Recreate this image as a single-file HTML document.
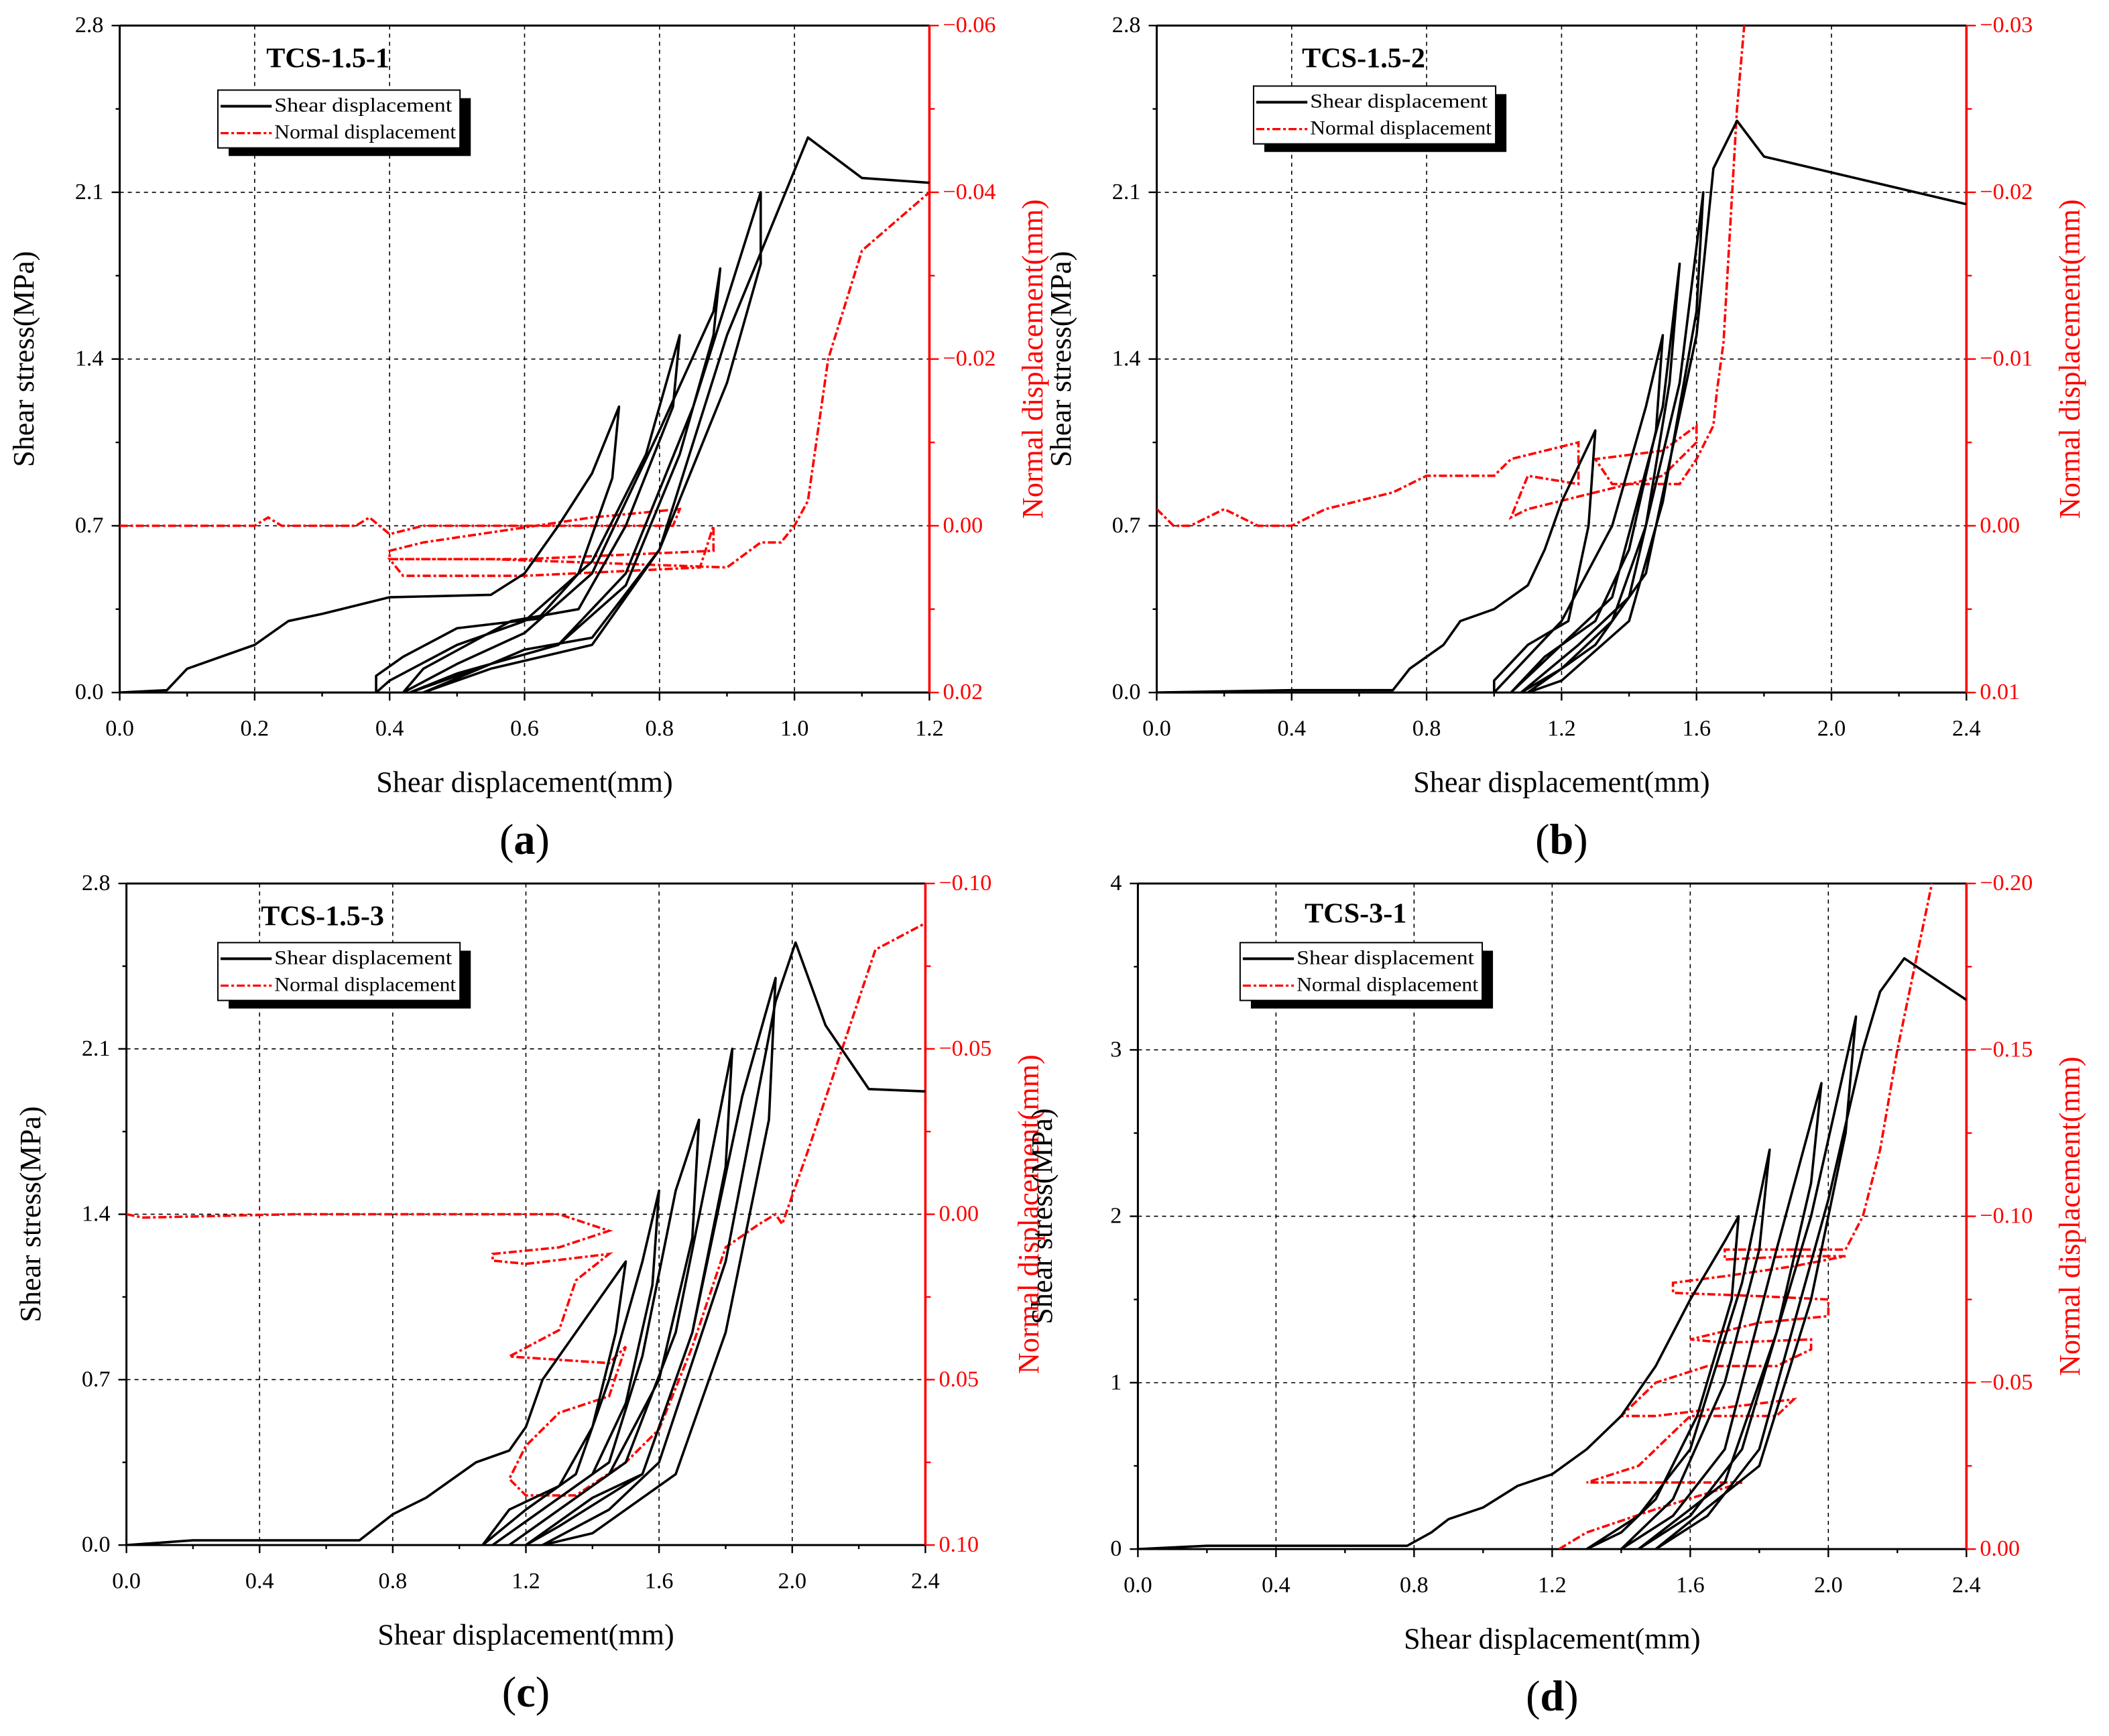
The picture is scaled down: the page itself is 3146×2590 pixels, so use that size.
<!DOCTYPE html>
<html><head><meta charset="utf-8"><style>
html,body{margin:0;padding:0;background:#fff;}
svg{display:block;font-family:"Liberation Serif",serif;}
text{font-family:"Liberation Serif",serif;}
</style></head><body>
<svg id="fig" width="3146" height="2590" viewBox="0 0 1568 1291" preserveAspectRatio="none" font-family="Liberation Serif, serif" xmlns="http://www.w3.org/2000/svg"></svg>
<script>
// ---------- DATA ----------
const shearA=[[0,0],[0.07,0.01],[0.1,0.1],[0.15,0.15],[0.2,0.2],[0.25,0.3],[0.3,0.33],[0.4,0.4],[0.55,0.41],[0.6,0.5],[0.65,0.7],[0.7,0.92],[0.74,1.2],[0.73,0.9],[0.68,0.5],[0.62,0.31],[0.5,0.27],[0.42,0.15],[0.38,0.07],[0.38,0],[0.4,0.05],[0.5,0.2],[0.6,0.3],[0.7,0.55],[0.78,1.0],[0.83,1.5],[0.82,1.2],[0.75,0.7],[0.68,0.35],[0.58,0.3],[0.45,0.1],[0.42,0],[0.5,0.12],[0.6,0.25],[0.7,0.5],[0.8,1.1],[0.88,1.6],[0.89,1.78],[0.88,1.5],[0.83,1.0],[0.75,0.45],[0.65,0.2],[0.5,0.08],[0.43,0],[0.55,0.12],[0.65,0.2],[0.75,0.5],[0.85,1.2],[0.95,2.1],[0.95,1.8],[0.9,1.3],[0.8,0.6],[0.7,0.2],[0.55,0.1],[0.45,0],[0.6,0.18],[0.7,0.23],[0.8,0.6],[0.9,1.5],[1.02,2.33],[1.1,2.16],[1.2,2.14]];
const normalA=[[0,0],[0.2,0],[0.22,-0.001],[0.24,0],[0.35,0],[0.37,-0.001],[0.4,0.001],[0.45,0],[0.82,0],[0.83,-0.002],[0.7,-0.001],[0.45,0.002],[0.4,0.003],[0.4,0.004],[0.6,0.004],[0.88,0.003],[0.88,0],[0.86,0.005],[0.6,0.006],[0.42,0.006],[0.4,0.004],[0.55,0.004],[0.9,0.005],[0.95,0.002],[0.98,0.002],[1.0,0],[1.02,-0.003],[1.05,-0.02],[1.1,-0.033],[1.2,-0.04]];
const shearB=[[0,0],[0.4,0.01],[0.7,0.01],[0.75,0.1],[0.8,0.15],[0.85,0.2],[0.9,0.3],[1.0,0.35],[1.1,0.45],[1.15,0.6],[1.2,0.8],[1.3,1.1],[1.28,0.7],[1.22,0.3],[1.1,0.2],[1.0,0.05],[1.0,0],[1.1,0.15],[1.2,0.3],[1.35,0.7],[1.45,1.2],[1.5,1.5],[1.48,1.1],[1.4,0.6],[1.3,0.3],[1.15,0.15],[1.05,0],[1.2,0.2],[1.35,0.4],[1.5,1.2],[1.55,1.8],[1.52,1.3],[1.45,0.7],[1.35,0.3],[1.2,0.1],[1.08,0],[1.25,0.2],[1.4,0.4],[1.55,1.3],[1.62,2.1],[1.6,1.6],[1.5,0.8],[1.4,0.3],[1.2,0.05],[1.1,0],[1.3,0.2],[1.45,0.5],[1.6,1.5],[1.65,2.2],[1.72,2.4],[1.8,2.25],[2.4,2.05]];
const normalB=[[0,-0.001],[0.05,0],[0.1,0],[0.2,-0.001],[0.3,0],[0.4,0],[0.5,-0.001],[0.7,-0.002],[0.8,-0.003],[1.0,-0.003],[1.05,-0.004],[1.25,-0.005],[1.25,-0.0025],[1.1,-0.003],[1.05,-0.0005],[1.1,-0.001],[1.3,-0.002],[1.5,-0.003],[1.6,-0.005],[1.6,-0.006],[1.5,-0.0045],[1.3,-0.004],[1.35,-0.0025],[1.55,-0.0025],[1.6,-0.004],[1.65,-0.006],[1.66,-0.008],[1.68,-0.011],[1.7,-0.018],[1.72,-0.025],[1.75,-0.032]];
const shearC=[[0,0],[0.2,0.02],[0.7,0.02],[0.8,0.13],[0.9,0.2],[1.0,0.3],[1.05,0.35],[1.15,0.4],[1.2,0.5],[1.25,0.7],[1.35,0.9],[1.45,1.1],[1.5,1.2],[1.47,0.9],[1.4,0.5],[1.3,0.25],[1.15,0.15],[1.07,0],[1.2,0.15],[1.35,0.3],[1.45,0.7],[1.55,1.2],[1.6,1.5],[1.58,1.1],[1.5,0.6],[1.4,0.3],[1.2,0.1],[1.1,0],[1.3,0.2],[1.45,0.35],[1.55,0.8],[1.65,1.5],[1.72,1.8],[1.7,1.3],[1.6,0.7],[1.45,0.3],[1.25,0.1],[1.15,0],[1.35,0.2],[1.5,0.35],[1.65,0.9],[1.75,1.6],[1.82,2.1],[1.8,1.6],[1.7,0.9],[1.55,0.3],[1.3,0.08],[1.2,0],[1.4,0.2],[1.55,0.3],[1.7,0.9],[1.85,1.9],[1.95,2.4],[1.93,1.8],[1.8,0.9],[1.65,0.3],[1.4,0.05],[1.25,0],[1.45,0.15],[1.6,0.35],[1.8,1.2],[1.95,2.3],[2.01,2.55],[2.1,2.2],[2.23,1.93],[2.4,1.92]];
const normalC=[[0,0],[0.05,0.001],[0.5,0],[1.0,0],[1.3,0],[1.45,0.005],[1.3,0.01],[1.1,0.012],[1.1,0.014],[1.2,0.015],[1.45,0.012],[1.35,0.02],[1.3,0.035],[1.15,0.043],[1.3,0.044],[1.45,0.045],[1.5,0.04],[1.45,0.055],[1.3,0.06],[1.2,0.07],[1.15,0.08],[1.2,0.085],[1.35,0.085],[1.5,0.075],[1.6,0.065],[1.7,0.04],[1.8,0.01],[1.9,0.003],[1.95,0],[1.97,0.003],[2.05,-0.02],[2.15,-0.05],[2.25,-0.08],[2.4,-0.088]];
const shearD=[[0,0],[0.2,0.02],[0.78,0.02],[0.85,0.1],[0.9,0.18],[1.0,0.25],[1.1,0.38],[1.2,0.45],[1.3,0.6],[1.4,0.8],[1.5,1.1],[1.6,1.5],[1.7,1.85],[1.74,2.0],[1.72,1.5],[1.62,0.8],[1.5,0.3],[1.4,0.1],[1.3,0],[1.45,0.2],[1.6,0.6],[1.75,1.6],[1.83,2.4],[1.8,1.8],[1.7,1.0],[1.55,0.3],[1.4,0],[1.55,0.2],[1.7,0.6],[1.85,1.8],[1.98,2.8],[1.95,2.2],[1.85,1.3],[1.7,0.4],[1.45,0],[1.6,0.2],[1.75,0.6],[1.95,2.0],[2.08,3.2],[2.05,2.5],[1.95,1.5],[1.8,0.5],[1.5,0],[1.65,0.2],[1.8,0.6],[2.0,2.1],[2.1,3.0],[2.15,3.35],[2.22,3.55],[2.4,3.3]];
const normalD=[[1.22,0],[1.3,-0.005],[1.5,-0.012],[1.75,-0.02],[1.6,-0.02],[1.3,-0.02],[1.45,-0.025],[1.6,-0.04],[1.85,-0.04],[1.9,-0.045],[1.5,-0.04],[1.4,-0.04],[1.5,-0.05],[1.65,-0.055],[1.85,-0.055],[1.95,-0.06],[1.95,-0.063],[1.7,-0.062],[1.6,-0.063],[1.8,-0.068],[2.0,-0.07],[2.0,-0.075],[1.8,-0.076],[1.55,-0.077],[1.55,-0.08],[1.7,-0.082],[1.9,-0.085],[2.05,-0.088],[1.9,-0.088],[1.7,-0.087],[1.7,-0.09],[2.0,-0.09],[2.05,-0.09],[2.1,-0.1],[2.15,-0.12],[2.2,-0.15],[2.25,-0.175],[2.3,-0.2]];
const xTicksA=[0,0.2,0.4,0.6,0.8,1.0,1.2];
const xTicks24=[0,0.4,0.8,1.2,1.6,2.0,2.4];
const yTicks28=[0,0.7,1.4,2.1,2.8];
const yTicks4=[0,1,2,3,4];
const rTicksA=[0.02,0,-0.02,-0.04,-0.06];
const rTicksB=[0.01,0,-0.01,-0.02,-0.03];
const rTicksC=[0.10,0.05,0,-0.05,-0.10];
const rTicksD=[0,-0.05,-0.10,-0.15,-0.20];
const titles=["TCS-1.5-1","TCS-1.5-2","TCS-1.5-3","TCS-3-1"];
const labels=["a","b","c","d"];

// ---------- DRAW ----------
const NS="http://www.w3.org/2000/svg";
const svg=document.getElementById('fig');
function mk(tag,attrs,parent){const e=document.createElementNS(NS,tag);for(const k in attrs)e.setAttribute(k,attrs[k]);(parent||svg).appendChild(e);return e;}
function fmt(v,d){let s=Math.abs(v).toFixed(d);return (v<0?'\u2212':'')+s;}

const panels=[
 {L:89,R:691,T:19,B:515,xt:xTicksA,xd:1,yt:yTicks28,yd:1,rt:rTicksA,rd:2,sh:shearA,nm:normalA,tx:198,ty:43,lg:[162,67]},
 {L:860,R:1462,T:19,B:515,xt:xTicks24,xd:1,yt:yTicks28,yd:1,rt:rTicksB,rd:2,sh:shearB,nm:normalB,tx:968,ty:43,lg:[932,64]},
 {L:94,R:688,T:657,B:1149,xt:xTicks24,xd:1,yt:yTicks28,yd:1,rt:rTicksC,rd:2,sh:shearC,nm:normalC,tx:194,ty:681,lg:[162,701]},
 {L:846,R:1462,T:657,B:1152,xt:xTicks24,xd:1,yt:yTicks4,yd:0,rt:rTicksD,rd:2,sh:shearD,nm:normalD,tx:970,ty:679,lg:[922,701]}
];
const SERIF='Liberation Serif, serif';

panels.forEach((p,i)=>{
 const g=mk('g',{'font-family':SERIF});
 
 
 const x0=p.xt[0],x1=p.xt[p.xt.length-1],y0=p.yt[0],y1=p.yt[p.yt.length-1];
 const r0=p.rt[0],r1=p.rt[p.rt.length-1];
 const sx=v=>p.L+(v-x0)/(x1-x0)*(p.R-p.L);
 const sy=v=>p.B-(v-y0)/(y1-y0)*(p.B-p.T);
 const sr=v=>p.B-(v-r0)/(r1-r0)*(p.B-p.T);
 const defs=mk('defs',{},g);
 const cp=mk('clipPath',{id:'clip'+i},defs);
 mk('rect',{x:p.L,y:p.T,width:p.R-p.L,height:p.B-p.T},cp);
 p.xt.slice(1,-1).forEach(v=>{const l=mk('line',{x1:sx(v),x2:sx(v),y1:p.T,y2:p.B,stroke:'#000','stroke-width':0.8,'stroke-dasharray':'3,3'},g);});
 p.yt.slice(1,-1).forEach(v=>{const l=mk('line',{x1:p.L,x2:p.R,y1:sy(v),y2:sy(v),stroke:'#000','stroke-width':0.8,'stroke-dasharray':'3,3'},g);});
 mk('line',{x1:p.L,x2:p.R,y1:p.T,y2:p.T,stroke:'#000','stroke-width':1.5},g);
 mk('line',{x1:p.L,x2:p.R,y1:p.B,y2:p.B,stroke:'#000','stroke-width':1.5},g);
 mk('line',{x1:p.L,x2:p.L,y1:p.T,y2:p.B,stroke:'#000','stroke-width':1.5},g);
 mk('line',{x1:p.R,x2:p.R,y1:p.T,y2:p.B,stroke:'#f00','stroke-width':1.8},g);
 p.xt.forEach((v,k)=>{
  mk('line',{x1:sx(v),x2:sx(v),y1:p.B,y2:p.B+6,stroke:'#000','stroke-width':1.2},g);
  if(k<p.xt.length-1){const m=(v+p.xt[k+1])/2;mk('line',{x1:sx(m),x2:sx(m),y1:p.B,y2:p.B+3,stroke:'#000','stroke-width':1.2},g);}
  const t=mk('text',{x:sx(v),y:p.B+32,'font-size':17,'text-anchor':'middle','font-family':SERIF},g);t.textContent=v.toFixed(p.xd);
  
 });
 p.yt.forEach((v,k)=>{
  mk('line',{x1:p.L-6,x2:p.L,y1:sy(v),y2:sy(v),stroke:'#000','stroke-width':1.2},g);
  if(k<p.yt.length-1){const m=(v+p.yt[k+1])/2;mk('line',{x1:p.L-3,x2:p.L,y1:sy(m),y2:sy(m),stroke:'#000','stroke-width':1.2},g);}
  const t=mk('text',{x:p.L-12,y:sy(v)+5,'font-size':17,'text-anchor':'end','font-family':SERIF},g);t.textContent=v.toFixed(p.yd);
  
 });
 p.rt.forEach((v,k)=>{
  mk('line',{x1:p.R,x2:p.R+7,y1:sr(v),y2:sr(v),stroke:'#f00','stroke-width':1.2},g);
  if(k<p.rt.length-1){const m=(v+p.rt[k+1])/2;mk('line',{x1:p.R,x2:p.R+4,y1:sr(m),y2:sr(m),stroke:'#f00','stroke-width':1.2},g);}
  const t=mk('text',{x:p.R+10,y:sr(v)+5,'font-size':17,fill:'#f00','font-family':SERIF},g);t.textContent=fmt(v,p.rd);
  
 });
 const cx=(p.L+p.R)/2, cy=(p.T+p.B)/2;
 let t=mk('text',{x:cx,y:p.B+74,'font-size':22,'text-anchor':'middle','font-family':SERIF},g);t.textContent='Shear displacement(mm)';
 
 t=mk('text',{x:0,y:0,'font-size':22,'text-anchor':'middle','font-family':SERIF,transform:`translate(${p.L-64},${cy}) rotate(-90)`},g);t.textContent='Shear stress(MPa)';
 
 t=mk('text',{x:0,y:0,'font-size':22,'text-anchor':'middle',fill:'#f00','font-family':SERIF,transform:`translate(${p.R+84},${cy}) rotate(-90)`},g);t.textContent='Normal displacement(mm)';
 
 t=mk('text',{x:cx,y:p.B+120,'font-size':32,'text-anchor':'middle','font-family':SERIF},g);
 
 const s1=mk('tspan',{},t);s1.textContent='(';
 const s2=mk('tspan',{'font-weight':'bold'},t);s2.textContent=labels[i];
 const s3=mk('tspan',{},t);s3.textContent=')';
 const pc=mk('g',{'clip-path':`url(#clip${i})`},g);
 let pl=mk('polyline',{points:p.nm.map(d=>sx(d[0])+','+sr(d[1])).join(' '),fill:'none',stroke:'#f00','stroke-width':1.8,'stroke-dasharray':'6,2,2,2'},pc);
 
 pl=mk('polyline',{points:p.sh.map(d=>sx(d[0])+','+sy(d[1])).join(' '),fill:'none',stroke:'#000','stroke-width':1.8,'stroke-linejoin':'round'},pc);
 
 t=mk('text',{x:p.tx,y:p.ty+7,'font-size':21,'font-weight':'bold','font-family':SERIF},g);t.textContent=titles[i];
 
 const [lx,ly]=p.lg, lw=180, lh=43;
 const lgG=mk('g',{},g);
 
 mk('rect',{x:lx+8,y:ly+6,width:lw,height:lh,fill:'#000'},lgG);
 mk('rect',{x:lx,y:ly,width:lw,height:lh,fill:'#fff',stroke:'#000','stroke-width':1},lgG);
 mk('line',{x1:lx+2,x2:lx+40,y1:ly+12,y2:ly+12,stroke:'#000','stroke-width':2},lgG);
 mk('line',{x1:lx+2,x2:lx+40,y1:ly+32,y2:ly+32,stroke:'#f00','stroke-width':1.6,'stroke-dasharray':'6,2,2,2'},lgG);
 t=mk('text',{x:lx+42,y:ly+16,'font-size':14.5,'font-family':SERIF,textLength:132,lengthAdjust:'spacingAndGlyphs'},lgG);t.textContent='Shear displacement';
 
 t=mk('text',{x:lx+42,y:ly+36,'font-size':14.5,'font-family':SERIF,textLength:135,lengthAdjust:'spacingAndGlyphs'},lgG);t.textContent='Normal displacement';
 
});
</script>
</body></html>
